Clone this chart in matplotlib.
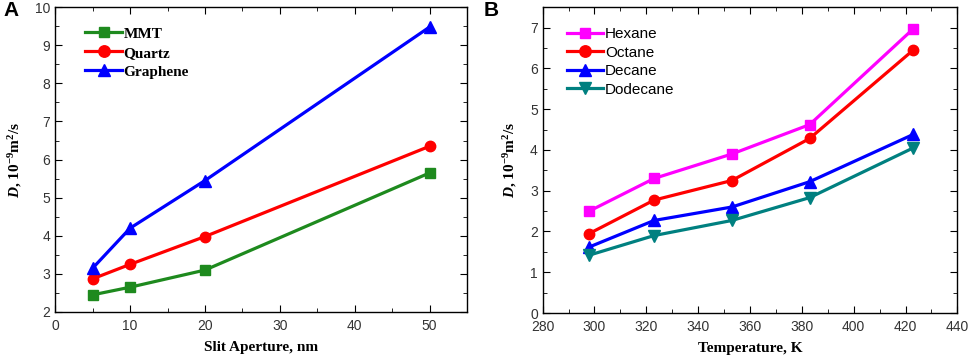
import matplotlib
matplotlib.use("Agg")
import matplotlib.pyplot as plt
from matplotlib.ticker import MultipleLocator

# data
aperture = [5, 10, 20, 50]
mmt = [2.45, 2.65, 3.1, 5.65]
quartz = [2.87, 3.25, 3.98, 6.35]
graphene = [3.15, 4.2, 5.45, 9.48]

temps = [298, 323, 353, 383, 423]
hexane = [2.5, 3.3, 3.9, 4.62, 6.97]
octane = [1.95, 2.77, 3.25, 4.28, 6.45]
decane = [1.62, 2.27, 2.6, 3.22, 4.38]
dodecane = [1.42, 1.9, 2.27, 2.83, 4.05]

plt.rcParams['font.family'] = 'Liberation Sans'
plt.rcParams['mathtext.fontset'] = 'custom'
plt.rcParams['mathtext.rm'] = 'Liberation Serif:bold'
plt.rcParams['mathtext.it'] = 'Liberation Serif:italic:bold'

ylab = r"$\mathit{D}$, 10$^{-9}$m$^{2}$/s"


def style_axes(ax):
    ax.tick_params(which='both', direction='in', top=True, right=True, labelsize=10,
                   labelcolor='#333333')
    ax.tick_params(which='major', length=5)
    ax.tick_params(which='minor', length=3)
    ax.tick_params(axis='x', pad=5)
    for s in ax.spines.values():
        s.set_linewidth(1.0)


fig = plt.figure(figsize=(9.69, 3.59), dpi=100)

# panel A
ax1 = fig.add_axes([0.057, 0.131, 0.425, 0.849])
ax1.plot(aperture, mmt, color='#1e8a1e', marker='s', lw=2.3, ms=7, label='MMT')
ax1.plot(aperture, quartz, color='#ff0000', marker='o', lw=2.3, ms=7.5, label='Quartz')
ax1.plot(aperture, graphene, color='#0000ff', marker='^', lw=2.3, ms=8, label='Graphene')
ax1.set_xlim(0, 55)
ax1.set_ylim(2, 10)
ax1.xaxis.set_major_locator(MultipleLocator(10))
ax1.xaxis.set_minor_locator(MultipleLocator(5))
ax1.yaxis.set_major_locator(MultipleLocator(1))
ax1.yaxis.set_minor_locator(MultipleLocator(0.5))
style_axes(ax1)
ax1.set_xlabel('Slit Aperture, nm', family='Liberation Serif', fontweight='bold',
               fontsize=11, labelpad=6)
ax1.set_ylabel(ylab, family='Liberation Serif', fontweight='bold', fontsize=11, labelpad=8)
ax1.legend(loc='upper left', bbox_to_anchor=(0.04, 0.98), frameon=False,
           prop={'family': 'Liberation Serif', 'weight': 'bold', 'size': 11},
           handlelength=2.4, handletextpad=0.1, labelspacing=0.35, markerscale=1.1)
fig.text(0.004, 0.998, 'A', fontsize=15, fontweight='bold', va='top')

# panel B
ax2 = fig.add_axes([0.560, 0.128, 0.428, 0.852])
ax2.plot(temps, hexane, color='#ff00ff', marker='s', lw=2.3, ms=7, label='Hexane')
ax2.plot(temps, octane, color='#ff0000', marker='o', lw=2.3, ms=7.5, label='Octane')
ax2.plot(temps, decane, color='#0000ff', marker='^', lw=2.3, ms=8, label='Decane')
ax2.plot(temps, dodecane, color='#008080', marker='v', lw=2.3, ms=8, label='Dodecane')
ax2.set_xlim(280, 440)
ax2.set_ylim(0, 7.5)
ax2.xaxis.set_major_locator(MultipleLocator(20))
ax2.xaxis.set_minor_locator(MultipleLocator(10))
ax2.yaxis.set_major_locator(MultipleLocator(1))
ax2.yaxis.set_minor_locator(MultipleLocator(0.5))
style_axes(ax2)
ax2.set_xlabel('Temperature, K', family='Liberation Serif', fontweight='bold',
               fontsize=11, labelpad=6)
ax2.set_ylabel(ylab, family='Liberation Serif', fontweight='bold', fontsize=11, labelpad=8)
ax2.legend(loc='upper left', bbox_to_anchor=(0.025, 0.98), frameon=False,
           prop={'size': 11}, handlelength=2.4, handletextpad=0.1, labelspacing=0.3,
           markerscale=1.1)
fig.text(0.499, 0.998, 'B', fontsize=15, fontweight='bold', va='top')

fig.savefig('out.png', dpi=100)
